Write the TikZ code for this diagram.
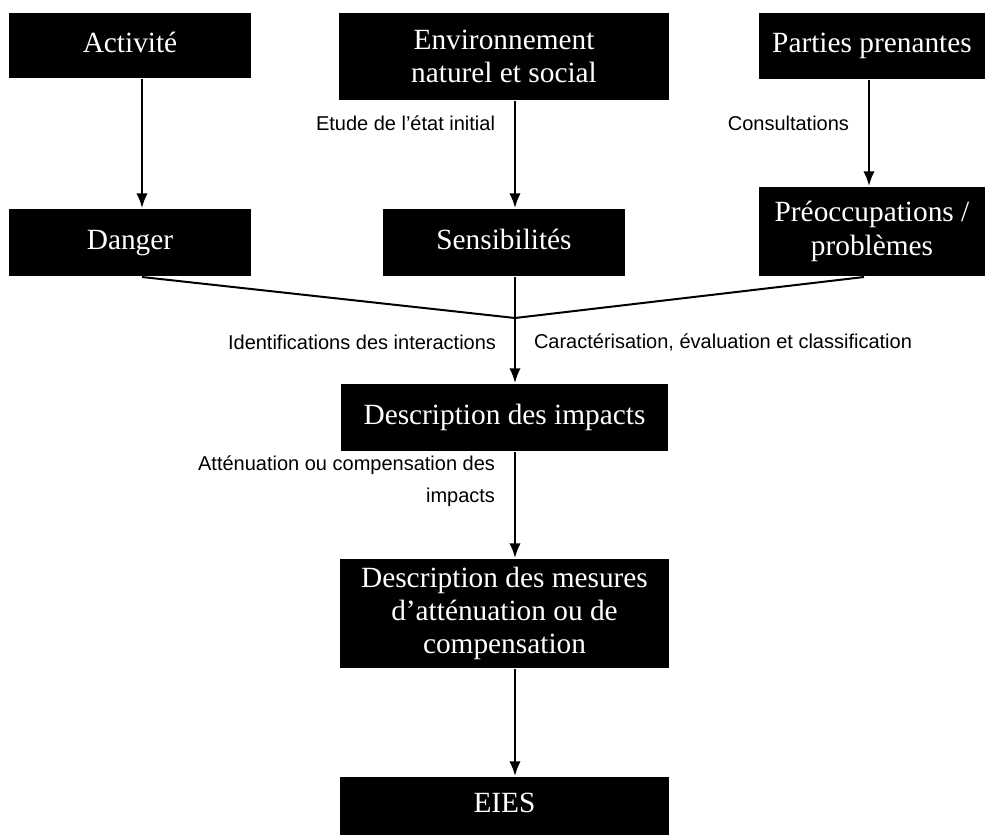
\documentclass[tikz,border=0pt]{standalone}
\usepackage{fontspec}
\setmainfont{Liberation Serif}
\setsansfont{Liberation Sans}
\usetikzlibrary{arrows.meta,calc}

\tikzset{
  box/.style={fill=black, text=white, align=center, inner sep=0pt,
    font=\fontsize{22}{25}\selectfont},
  oneline/.style={box, text height=15pt, text depth=5pt},
  lbl/.style={font=\sffamily\fontsize{15}{24}\selectfont, inner sep=0pt},
  arr/.style={-{Latex[length=11pt,width=8.5pt]}},
}

\begin{document}
\begin{tikzpicture}[x=0.75pt, y=-0.75pt, line width=1.5pt]
      \useasboundingbox (0,0) rectangle (985,835);

      \node[oneline, minimum width=181.5pt, minimum height=48.75pt] (act) at (130,45.5) {Activité};
      \node[box, minimum width=247.5pt, minimum height=65.25pt] (env) at (504,56.5) {Environnement\\naturel et social};
      \node[oneline, minimum width=169.5pt, minimum height=49.5pt] (par) at (872,46) {Parties prenantes};

      \node[oneline, minimum width=181.5pt, minimum height=50.25pt] (dan) at (130,242.5) {Danger};
      \node[oneline, minimum width=181.5pt, minimum height=50.25pt] (sen) at (504,242.5) {Sensibilités};
      \node[box, minimum width=169.5pt, minimum height=66.75pt] (pre) at (872,231.5) {Préoccupations /\\problèmes};

      \node[oneline, minimum width=245.25pt, minimum height=50.25pt] (imp) at (504.5,417.5) {Description des impacts};
      \node[box, minimum width=246.75pt, minimum height=81.75pt] (mes) at (504.5,613.5) {Description des mesures\\d’atténuation ou de\\compensation};
      \node[oneline, minimum width=246.75pt, minimum height=43.5pt] (eies) at (504.5,806) {EIES};

      \draw[arr] ($(act.south)+(12,0)$) -- ($(dan.north)+(12,0)$);
      \draw[arr] ($(env.south)+(11,0)$) -- ($(sen.north)+(11,0)$);
      \draw[arr] ($(par.south)+(-3,0)$) -- ($(pre.north)+(-3,0)$);
      \node[lbl, anchor=east] (etu) at (496,123) {Etude de l’état initial};
      \node[lbl, anchor=east] (con) at (850,123) {Consultations};

      % les trois branches se rejoignent
      \coordinate (jn) at (515,318);
      \draw ($(dan.south)+(12,0)$) -- (jn) -- ($(pre.south)+(-8,0)$);
      \draw ($(sen.south)+(11,0)$) -- (jn);
      \draw[arr] (jn) -- ($(imp.north)+(10.5,0)$);
      \node[lbl, anchor=east] (ide) at (497,342) {Identifications des interactions};
      \node[lbl, anchor=west] (car) at (533,342) {Caractérisation, évaluation et classification};

      \draw[arr] ($(imp.south)+(10.5,0)$) -- ($(mes.north)+(10.5,0)$);
      \node[lbl, anchor=east, align=right] (att) at (496,481) {Atténuation ou compensation des\\impacts};
      \draw[arr] ($(mes.south)+(10.5,0)$) -- ($(eies.north)+(10.5,0)$);
    \end{tikzpicture}
\end{document}
